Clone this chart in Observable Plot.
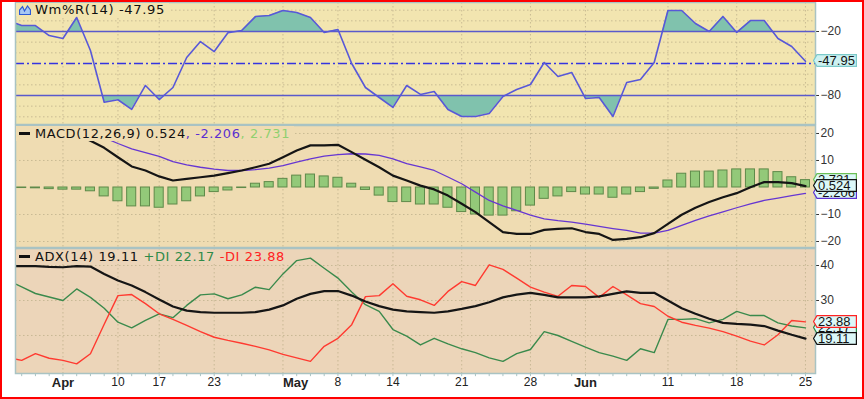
<!DOCTYPE html>
<html>
<head>
<meta charset="utf-8">
<script src="https://cdn.jsdelivr.net/npm/d3@7"></script>
<script src="https://cdn.jsdelivr.net/npm/@observablehq/plot@0.6"></script>
<style>
html, body { margin: 0; padding: 0; background: #ffffff; }
#chart { position: relative; width: 864px; height: 399px; background: #ffffff; overflow: hidden; }
#chart > svg { position: absolute; left: 0; }
.lg { position: absolute; left: 16px; padding: 0 4px 0 2px; font-family: "DejaVu Sans", "Verdana", sans-serif; font-size: 13px; white-space: nowrap; color: #111; }
.lg .dash { display: inline-block; width: 11px; height: 3px; background: #111; vertical-align: middle; margin: 0 5px 2px 1px; }
.lg svg { vertical-align: -1px; margin: 0 4px 0 1px; }
.lg .txt { display: inline-block; }
.vb { position: absolute; left: 813px; width: 44px; height: 13px; }
.vb svg { position: absolute; left: 0; top: 0; }
.vb span { position: absolute; left: 5px; top: 0; line-height: 13px; font-family: "Liberation Sans", Arial, sans-serif; font-size: 13px; color: #111; }
#border { position: absolute; left: 0; top: 0; width: 864px; height: 399px; box-sizing: border-box; border: 2px solid #ff0000; pointer-events: none; }
</style>
</head>
<body>
<div id="chart"></div>
<script>
// ---- data (trading-day offsets, last bar = 0) ----
const dayIndex = [-58,-57,-56,-55,-54,-53,-52,-51,-50,-49,-48,-47,-46,-45,-44,-43,-42,-41,-40,-39,-38,-37,-36,-35,-34,-33,-32,-31,-30,-29,-28,-27,-26,-25,-24,-23,-22,-21,-20,-19,-18,-17,-16,-15,-14,-13,-12,-11,-10,-9,-8,-7,-6,-5,-4,-3,-2,-1,0];

const willR = [-9.5,-14.4,-14.4,-23.8,-26.6,-6.9,-37.8,-86.3,-84.0,-93.0,-70.6,-83.8,-72.5,-44.4,-29.4,-38.8,-21.2,-19.1,-6.0,-5.0,-0.3,-2.2,-6.9,-20.9,-18.1,-50.0,-72.5,-81.9,-91.2,-70.6,-79.0,-76.2,-93.1,-99.7,-99.7,-96.9,-80.9,-74.4,-69.7,-49.1,-62.2,-58.4,-82.8,-81.9,-99.7,-67.8,-65.0,-49.1,-0.3,-0.3,-12.5,-20.0,-5.9,-20.9,-9.7,-9.7,-26.6,-34.1,-47.95];

const macdHist = [-0.2,-0.2,-0.3,-0.6,-0.8,-0.8,-1.4,-3.3,-5.1,-7.0,-7.0,-7.5,-6.3,-5.1,-3.3,-1.7,-1.1,-0.2,1.4,2.0,3.2,4.4,4.8,4.1,3.6,1.4,-0.9,-3.0,-5.4,-5.4,-6.3,-6.3,-7.5,-9.1,-10.0,-10.4,-10.4,-8.8,-6.7,-4.2,-3.3,-1.7,-2.6,-2.6,-3.8,-2.6,-1.7,-0.5,2.6,5.1,5.9,5.9,6.3,6.7,6.7,6.7,5.7,3.8,2.731];

const macdLine = [null,null,null,null,null,19.5,17.3,14.7,11.2,7.8,6.3,4.1,2.6,3.2,3.8,4.4,5.3,6.3,7.5,8.8,11.2,13.7,15.6,15.6,15.8,13.1,10.3,7.5,4.4,2.6,0.7,-0.7,-3.0,-6.0,-9.1,-12.8,-16.5,-17.2,-17.2,-15.7,-15.3,-15.1,-16.5,-17.2,-19.4,-19.0,-18.4,-16.9,-13.5,-10.1,-7.5,-5.4,-3.6,-2.1,0.1,2.0,2.0,1.6,0.524];

const signalLine = [null,null,null,null,null,null,null,18.5,16.3,14.3,12.9,11.5,9.6,8.4,7.5,6.8,6.3,6.3,6.6,7.2,8.1,9.4,10.6,11.6,12.2,12.5,12.4,11.9,10.6,8.8,7.6,6.3,3.9,1.4,-1.7,-4.8,-6.8,-8.5,-10.2,-11.6,-12.3,-12.8,-13.6,-14.4,-15.2,-15.9,-16.9,-16.9,-15.9,-14.0,-12.2,-10.5,-9.0,-7.5,-6.1,-4.8,-3.9,-3.0,-2.206];

const adxLine = [39.8,39.8,39.8,39.6,39.5,39.8,39.7,37.6,35.7,34.3,32.4,30.3,28.3,27.1,26.7,26.5,26.5,26.5,26.7,27.4,28.6,30.5,31.9,32.7,32.7,31.4,29.7,28.4,27.4,26.9,26.7,26.5,26.9,27.6,28.4,29.5,30.9,31.7,32.2,31.6,30.9,30.9,30.9,31.2,31.9,32.6,32.2,32.2,30.0,27.8,26.2,24.8,23.6,23.3,23.1,22.7,21.4,20.2,19.11];

const plusDI = [35.7,33.9,32.0,31.0,30.0,33.3,30.9,27.8,23.8,22.2,24.3,26.2,25.1,28.6,31.6,31.9,30.5,31.6,33.8,33.1,37.6,41.4,42.1,39.2,36.4,32.4,28.8,26.9,21.7,19.8,17.3,19.2,17.6,16.2,15.1,13.6,12.6,14.8,16.0,21.1,20.0,18.3,16.7,15.1,14.1,12.9,16.2,15.1,24.6,24.6,24.8,23.6,24.6,26.9,25.7,25.7,23.6,22.7,22.17];

const minusDI = [13.7,12.9,14.8,13.5,12.9,11.9,14.8,23.2,31.4,31.7,29.1,26.2,24.6,22.9,21.1,19.5,18.6,17.8,16.9,15.9,14.6,13.6,12.6,16.9,19.2,23.1,31.1,31.4,34.8,31.2,30.2,28.6,32.6,35.4,34.3,40.2,38.9,36.4,33.8,32.4,31.2,34.3,34.0,30.9,34.0,31.6,29.1,28.3,25.5,23.8,22.9,22.1,21.1,19.8,18.4,17.3,20.2,24.3,23.88];

const monthTicks = [-54, -38, -16];
const monthLabels = ["Apr", "May", "Jun"];
const dayTicks = [-50, -47, -43, -34, -30, -25, -20, -10, -5, 0];
const dayLabels = ["10", "17", "23", "8", "14", "21", "28", "11", "18", "25"];

const wrAxisTicks = [-20, -80];
const wrLevels = [-20, -80];
const wrMid = [-50];
const wrGrid = [0, -10, -30, -40, -60, -70, -90, -100];
const macdAxisTicks = [20, 10, -10, -20];
const macdGrid = [20, 10, -10, -20];
const adxAxisTicks = [40, 30];
const adxGrid = [40, 30, 20];

// ---- styling ----
const BG1 = "#f2e5b0", BG2 = "#efdcb2", BG3 = "#ecd5b9";
const GRID = "#bfb18c";
const FRAME = "#a9c3c3";
const TEAL = "#80c2ad";
const xDomain = [-57.45, 0.73];
const yWR = [-107.2, 7.2], yMACD = [-22.22, 22.96], yADX = [9.14, 44.86];

const rows = dayIndex.map((d, i) => ({
  d, wr: willR[i], hist: macdHist[i], macd: macdLine[i], sig: signalLine[i],
  adx: adxLine[i], pdi: plusDI[i], mdi: minusDI[i]
}));
const gridDays = monthTicks.concat(dayTicks);

const base = {
  width: 864, marginLeft: 15, marginRight: 49,
  x: {domain: xDomain, axis: null},
  style: {background: "transparent", fontFamily: "'Liberation Sans', Arial, sans-serif", fontSize: "12px", color: "#333"}
};
const yAxisOpts = {axis: "right", tickSize: 3, tickPadding: 2, label: null};
const dotted = {stroke: GRID, strokeDasharray: "1.5,2.5", strokeOpacity: 0.8};

const chart = document.getElementById("chart");

// ---- panel 1: Williams %R ----
const p1 = Plot.plot({
  ...base, height: 125, marginTop: 2, marginBottom: 1,
  y: {domain: yWR, ticks: wrAxisTicks, ...yAxisOpts},
  marks: [
    Plot.frame({fill: BG1}),
    Plot.ruleY(wrGrid, dotted),
    Plot.ruleX(gridDays, dotted),
    Plot.areaY(rows, {x: "d", y1: -20, y2: "wr", fill: TEAL}),
    Plot.areaY(rows, {x: "d", y1: -80, y2: "wr", fill: TEAL}),
    Plot.ruleY(wrLevels, {stroke: "#5a5acb", strokeWidth: 1.5}),
    Plot.ruleY(wrMid, {stroke: "#3535e0", strokeWidth: 1.5, strokeDasharray: "9,3,2,3"}),
    Plot.line(rows, {x: "d", y: "wr", stroke: "#5858d8", strokeWidth: 1.6, clip: true}),
    Plot.frame({stroke: FRAME, strokeWidth: 1.5})
  ]
});
p1.style.top = "0px";
chart.appendChild(p1);
{
  const ys = p1.scale("y");
  const yUp = ys.apply(-20), yDn = ys.apply(-80);
  const ns = "http://www.w3.org/2000/svg";
  const defs = document.createElementNS(ns, "defs");
  const mk = (id, y, h) => {
    const cp = document.createElementNS(ns, "clipPath");
    cp.setAttribute("id", id);
    const r = document.createElementNS(ns, "rect");
    r.setAttribute("x", 15); r.setAttribute("y", y);
    r.setAttribute("width", 800); r.setAttribute("height", h);
    cp.appendChild(r); defs.appendChild(cp);
  };
  mk("wrUp", 0, yUp);
  mk("wrDn", yDn, 125 - yDn);
  p1.insertBefore(defs, p1.firstChild);
  const g = p1.querySelectorAll('g[aria-label="area"]');
  if (g[0]) g[0].setAttribute("clip-path", "url(#wrUp)");
  if (g[1]) g[1].setAttribute("clip-path", "url(#wrDn)");
}

// ---- panel 2: MACD ----
const p2 = Plot.plot({
  ...base, height: 124, marginTop: 1, marginBottom: 1,
  y: {domain: yMACD, ticks: macdAxisTicks, ...yAxisOpts},
  marks: [
    Plot.frame({fill: BG2}),
    Plot.ruleY(macdGrid, dotted),
    Plot.ruleX(gridDays, dotted),
    Plot.rect(rows, {x1: r => r.d - 0.33, x2: r => r.d + 0.33, y1: 0, y2: "hist", fill: "#93c979", stroke: "#5f8a4a", strokeWidth: 1, clip: true}),
    Plot.line(rows, {x: "d", y: "sig", stroke: "#6636d2", strokeWidth: 1.3, clip: true}),
    Plot.line(rows, {x: "d", y: "macd", stroke: "#151515", strokeWidth: 2.2, clip: true}),
    Plot.frame({stroke: FRAME, strokeWidth: 1.5})
  ]
});
p2.style.top = "124px";
chart.appendChild(p2);

// ---- panel 3: ADX ----
const p3 = Plot.plot({
  ...base, height: 152, marginTop: 1, marginBottom: 26,
  y: {domain: yADX, ticks: adxAxisTicks, ...yAxisOpts},
  marks: [
    Plot.frame({fill: BG3}),
    Plot.ruleY(adxGrid, dotted),
    Plot.ruleX(gridDays, dotted),
    Plot.line(rows, {x: "d", y: "pdi", stroke: "#3a8a4c", strokeWidth: 1.4, clip: true}),
    Plot.line(rows, {x: "d", y: "mdi", stroke: "#ff3a30", strokeWidth: 1.4, clip: true}),
    Plot.line(rows, {x: "d", y: "adx", stroke: "#151515", strokeWidth: 2.2, clip: true}),
    Plot.frame({stroke: FRAME, strokeWidth: 1.5}),
    Plot.ruleX(dayIndex.filter(d => d >= xDomain[0]), {y1: yADX[0], y2: yADX[0] - 0.9, stroke: FRAME}),
    Plot.text(dayTicks, {x: d => d, text: (d, i) => dayLabels[i], frameAnchor: "bottom", dy: 9, lineAnchor: "middle", fontSize: 12, fill: "#222"}),
    Plot.text(monthTicks, {filter: (d, i) => monthLabels[i] !== "May", x: d => d, text: (d, i) => monthLabels[i], frameAnchor: "bottom", dy: 9, lineAnchor: "middle", fontSize: 13, fontWeight: "bold", fill: "#222"}),
    Plot.text(monthTicks, {filter: (d, i) => monthLabels[i] === "May", x: d => d, text: (d, i) => monthLabels[i], frameAnchor: "bottom", dy: 9, lineAnchor: "middle", textAnchor: "start", fontSize: 13, fontWeight: "bold", fill: "#222"})
  ]
});
p3.style.top = "247px";
chart.appendChild(p3);

// ---- legends ----
function legend(top, height, bg, glyph, textHtml, targetWidth) {
  const div = document.createElement("div");
  div.className = "lg";
  div.style.top = top + "px";
  div.style.height = height + "px";
  div.style.lineHeight = height + "px";
  div.style.background = bg;
  div.innerHTML = glyph + '<span class="txt">' + textHtml + '</span>';
  chart.appendChild(div);
  // fit the legend text to the width it has in the reference
  const txt = div.querySelector(".txt");
  const n = txt.textContent.length;
  txt.style.letterSpacing = "0px";
  const w0 = txt.getBoundingClientRect().width;
  let fs = Math.max(12, Math.min(14, 13 * (targetWidth - 0.6 * n) / w0));
  txt.style.fontSize = fs + "px";
  const w1 = txt.getBoundingClientRect().width;
  txt.style.letterSpacing = Math.max(0, (targetWidth - w1) / n) + "px";
}
legend(3, 13, BG1,
  '<svg width="12" height="10"><path d="M0.5,9.5 L0.5,5 L3.5,1.5 L5.5,6 L8.5,1 L11.5,5 L11.5,9.5 Z" fill="#a8c8f2" stroke="#2d5ad6" stroke-width="1.2"/></svg>',
  'Wm%R(14) -47.95', 130);
legend(126, 15, BG2,
  '<span class="dash"></span>',
  'MACD(12,26,9) 0.524<span style="color:#5b30d0">, -2.206</span><span style="color:#8fd070">, 2.731</span>', 255);
legend(250, 14, BG3,
  '<span class="dash"></span>',
  'ADX(14) 19.11<span style="color:#2f8a48"> +DI 22.17</span><span style="color:#ff2222"> -DI 23.88</span>', 250);

// ---- value boxes on the right axis ----
function valueBox(svgTop, plot, value, label, stroke, bg) {
  const y = svgTop + plot.scale("y").apply(value);
  const div = document.createElement("div");
  div.className = "vb";
  div.style.top = (y - 6.5) + "px";
  div.innerHTML = '<svg width="44" height="13"><path d="M0.5,6.5 L4,0.6 H43.4 V12.4 H4 Z" fill="' + bg + '" stroke="' + stroke + '" stroke-width="1.2"/></svg><span>' + label + '</span>';
  chart.appendChild(div);
}
valueBox(0, p1, willR[willR.length - 1], "-47.95", "#7ccaca", "#cdf1f1");
valueBox(124, p2, macdHist[macdHist.length - 1], "2.731", "#6cbf55", "#dcf8f8");
valueBox(124, p2, signalLine[signalLine.length - 1], "-2.206", "#5b30d0", "#dcf8f8");
valueBox(124, p2, macdLine[macdLine.length - 1], "0.524", "#111111", "#dcf8f8");
valueBox(247, p3, plusDI[plusDI.length - 1], "22.17", "#2f8a48", "#dcf8f8");
valueBox(247, p3, minusDI[minusDI.length - 1], "23.88", "#ff2222", "#dcf8f8");
valueBox(247, p3, adxLine[adxLine.length - 1], "19.11", "#111111", "#dcf8f8");

const border = document.createElement("div");
border.id = "border";
chart.appendChild(border);
</script>
</body>
</html>
